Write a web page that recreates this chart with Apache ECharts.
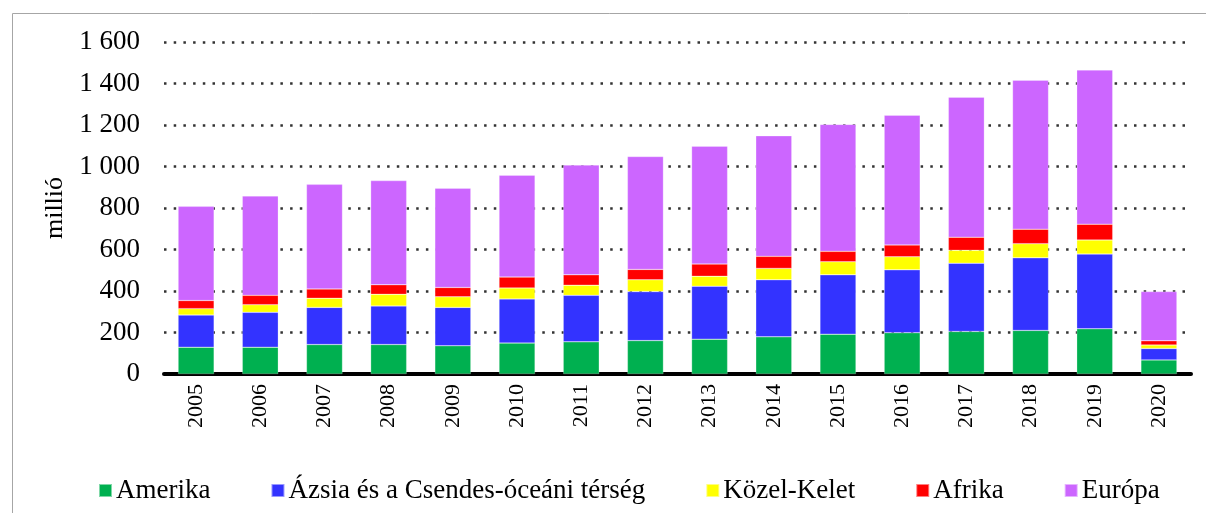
<!DOCTYPE html>
<html>
<head>
<meta charset="utf-8">
<script src="https://cdn.jsdelivr.net/npm/echarts@6/dist/echarts.min.js"></script>
<style>html,body{margin:0;padding:0;background:#fff}#c{width:1206px;height:513px}</style>
</head>
<body>
<div id="c"></div>
<script>
const years = ['2005','2006','2007','2008','2009','2010','2011','2012','2013','2014','2015','2016','2017','2018','2019','2020'];
const amerika = [129,129,142,142,136,149,155,161,168,179,192,199,205,210,218,68];
const azsia = [155,168,179,186,185,213,224,236,255,275,286,303,329,350,360,55];
const kozelKelet = [31,37,44,56,51,53,49,57,48,55,63,63,62,68,68,17];
const afrika = [39,45,45,46,45,52,50,50,59,58,50,57,63,70,76,20];
const europa = [454,479,504,502,478,491,529,544,568,581,612,625,675,718,743,237];
const seriesNames = ['Amerika','Ázsia és a Csendes-óceáni térség','Közel-Kelet','Afrika','Európa'];
const colors = ['#00B050','#3333FF','#FFFF00','#FF0000','#CC66FF'];
const yAxisName = 'millió';

const font = 'Liberation Serif';
const chart = echarts.init(document.getElementById('c'));
const dataSets = [amerika, azsia, kozelKelet, afrika, europa];
chart.setOption({
  animation: false,
  color: colors,
  graphic: [{
    type: 'rect', left: 10, top: 11,
    shape: {width: 1210, height: 520},
    style: {fill: 'none', stroke: '#a6a6a6', lineWidth: 1},
    silent: true
  }],
  grid: {left: 164, right: 15, top: 42, bottom: 139},
  legend: {
    bottom: 4, left: 93,
    itemWidth: 13, itemHeight: 13, itemGap: 60,
    icon: 'rect',
    textStyle: {fontFamily: font, fontSize: 27, color: '#000', padding: [0,0,0,-1]},
    data: seriesNames
  },
  xAxis: {
    type: 'category', data: years,
    axisLine: {lineStyle: {color: '#000', width: 4}},
    axisTick: {show: false},
    axisLabel: {rotate: 90, fontFamily: font, fontSize: 22, color: '#000', margin: 10}
  },
  yAxis: {
    type: 'value', min: 0, max: 1600, interval: 200,
    name: yAxisName, nameLocation: 'middle', nameRotate: 90, nameGap: 96,
    nameTextStyle: {fontFamily: font, fontSize: 26, color: '#000'},
    axisLine: {show: false}, axisTick: {show: false},
    axisLabel: {
      fontFamily: font, fontSize: 27, color: '#000', margin: 24,
      formatter: v => String(v).replace(/\B(?=(\d{3})+(?!\d))/g, ' ')
    },
    splitLine: {lineStyle: {color: '#333', width: 2.5, type: [2.5, 7.2]}}
  },
  series: dataSets.map((d, i) => ({
    name: seriesNames[i], type: 'bar', stack: 'total', data: d,
    barWidth: 36,
    itemStyle: {borderColor: 'rgba(255,255,255,0.5)', borderWidth: 0.5}
  }))
});
</script>
</body>
</html>
